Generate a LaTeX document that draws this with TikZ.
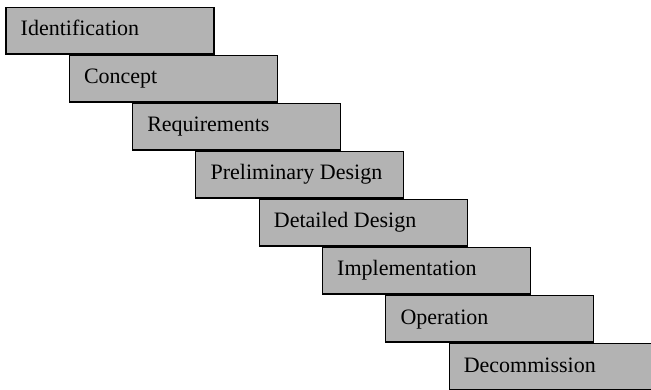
\documentclass[tikz,border=0pt]{standalone}
\usepackage{fontspec}
\setmainfont{Liberation Serif}
\begin{document}
\begin{tikzpicture}[x=1pt,y=-1pt,
  phase/.style={draw=black,line width=1.1pt,fill=boxgray,minimum width=208pt,minimum height=46.5pt,
    anchor=north west,inner sep=0pt,outer sep=0pt},
  phaselabel/.style={anchor=base west,inner sep=0pt,font=\fontsize{22}{25}\selectfont}]
\definecolor{boxgray}{RGB}{179,179,179}
\useasboundingbox (0,0) rectangle (651,390);
\begin{scope}
\clip (0,0) rectangle (651,390);
\foreach \n/\t [count=\i from 0] in {p1/Identification,p2/Concept,p3/Requirements,p4/Preliminary Design,p5/Detailed Design,p6/Implementation,p7/Operation,p8/Decommission}{
  \node[phase] (\n) at (6+63.3*\i,7.5+48*\i) {};
  \node[phaselabel] (\n-l) at ([xshift=14.5pt,yshift=-28.5pt]\n.north west) {\t};
}
\end{scope}
\end{tikzpicture}
\end{document}
